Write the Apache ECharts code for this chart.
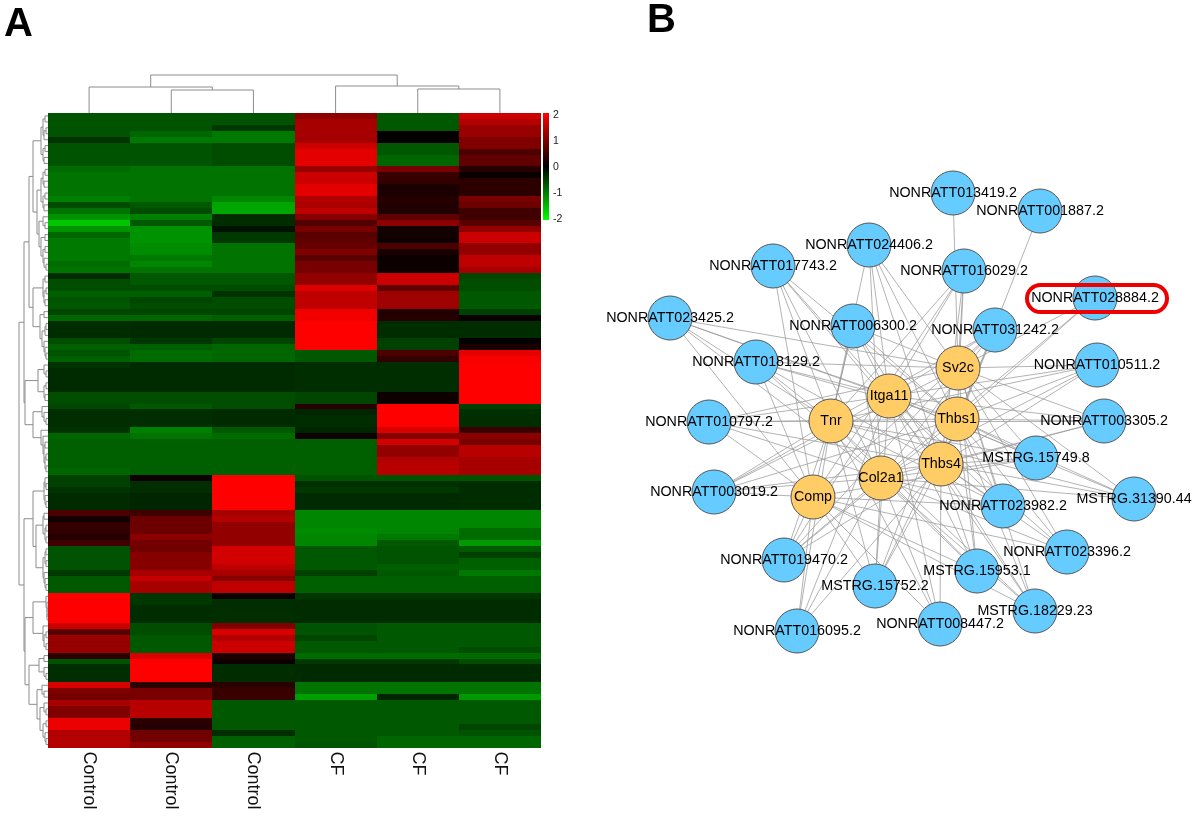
<!DOCTYPE html>
<html><head><meta charset="utf-8">
<style>html,body{margin:0;padding:0;background:#fff}#c{width:1200px;height:819px;filter:blur(.4px)}</style>
<script src="https://cdn.jsdelivr.net/npm/echarts@6/dist/echarts.min.js"></script>
</head><body><div id="c"></div>
<script>
const columns = ['Control','Control','Control','CF','CF','CF'];
const legendTicks = [-2,-1,0,1,2];

// expression values, top row to bottom row (107 rows)
const control1 = [-.65,-.65,-.65,-.65,-.4,-.65,-.65,-.65,-.65,-.85,
 -.9,-.9,-.9,-.9,-1,-.6,-.9,-1.15,-1.55,-1.15,
 -.8,-.95,-.95,-.95,-.95,-.85,-.9,-.35,-.6,-.6,
 -.75,-.65,-.7,-.55,-.8,-.35,-.35,-.35,-.6,-.75,
 -.65,-.75,-.4,-.33,-.33,-.33,-.33,-.6,-.6,-.55,
 -.36,-.36,-.36,-.4,-.8,-.75,-.75,-.75,-.75,-.75,
 -.8,-.5,-.5,-.4,-.33,-.33,-.33,.6,.15,.4,
 .4,.3,.5,-.65,-.65,-.65,-.65,-.45,-.7,-.7,
 -.7,2,2,2,2,2,1.6,.7,1.2,1.15,
 1.2,.35,-.65,-.36,-.36,-.36,1.7,1,.9,1.3,
 1,1,1.85,1.85,1.4,1.4,1.4];
const control2 = [-.65,-.65,-.65,-.8,-.95,-.65,-.65,-.65,-.65,-.9,
 -.9,-.9,-.9,-.9,-.9,-.7,-.6,-1,-.7,-1.15,
 -1.15,-1.15,-1.1,-1.1,-.95,-1.05,-.9,-.7,-.7,-.6,
 -.75,-.55,-.6,-.55,-.8,-.33,-.33,-.33,-.42,-.75,
 -.85,-.85,-.33,-.33,-.33,-.33,-.33,-.6,-.6,-.7,
 -.36,-.36,-.36,-1,-.9,-.75,-.75,-.75,-.75,-.75,
 -.75,.1,-.36,-.36,-.3,-.3,-.3,.5,.85,.85,
 .85,1.1,.9,.9,1.05,1.05,1.05,1.3,1.55,1.3,
 1.3,-.42,-.42,-.35,-.35,-.35,-.6,-.6,-.7,-.7,
 -.7,1.7,2,2,2,2,.35,.95,.95,1.45,
 1.45,1.45,.35,.3,.9,.9,1.15];
const control3 = [-.65,-.65,-.45,-.95,-.95,-.6,-.6,-.6,-.6,-.9,
 -.9,-.9,-.9,-.9,-1.05,-1.3,-1.3,-.35,-.35,-.15,
 -.45,-.45,-.9,-.9,-.9,-.9,-.9,-.7,-.7,-.6,
 -.4,-.6,-.6,-.55,-.75,-.33,-.33,-.33,-.55,-.8,
 -.8,-.8,-.33,-.33,-.33,-.33,-.33,-.6,-.6,-.6,
 -.33,-.33,-.33,-.7,-.85,-.75,-.75,-.75,-.75,-.75,
 -.75,2,2,2,2,2,2,1.3,1.4,1.15,
 1.15,1.15,1.15,1.65,1.65,1.65,1.5,1.3,1.05,1.5,
 1.5,.1,-.36,-.36,-.36,-.36,1,1.7,1.4,1.6,
 1.6,.25,.1,-.35,-.35,-.35,.35,.45,.45,-.7,
 -.7,-.7,-.7,-.7,-.36,-.75,-.75];
const cf1 = [1.1,1.3,1.3,1.3,1.3,1.6,1.8,1.8,1.8,1.2,
 1.6,1.6,1.8,1.8,1.4,1.35,1.5,1.05,.65,.95,
 .7,.75,.8,1,.7,.95,.95,1.15,1.15,1.75,
 1.5,1.5,1.5,1.9,1.9,2,2,2,2,2,
 -.7,-.7,-.36,-.36,-.36,-.36,-.36,-.55,-.55,.3,
 -.3,-.35,-.35,-.3,.1,-.75,-.75,-.75,-.75,-.75,
 -.75,-.65,-.38,-.45,-.33,-.33,-.33,-1.05,-1.05,-1.05,
 -1.1,-1.05,-1.05,-.7,-.7,-.7,-.7,-.5,-.75,-.75,
 -.75,-.42,-.35,-.35,-.35,-.35,-.65,-.65,-.55,-.7,
 -.7,-.85,-.45,-.33,-.33,-.33,-.9,-.9,-1.25,-.7,
 -.7,-.7,-.7,-.7,-.7,-.7,-.65];
const cf2 = [-.7,-.7,-.7,.03,.03,-.7,-.7,-.8,-.8,.95,
 .45,.4,.2,.2,.3,.25,.25,.75,1.1,.15,
 .15,.1,.6,.2,.1,.1,.1,1.6,1.6,.75,
 1.25,1.25,1.25,.25,.3,-.35,-.35,-.35,-.5,-.5,
 .6,.4,-.36,-.36,-.36,-.36,-.36,.12,.12,2,
 2,2,2,1.7,1.05,1.65,1.15,1.15,1.4,1.45,
 1.45,-.65,-.38,-.45,-.33,-.33,-.33,-1.05,-1.05,-1.05,
 -1.05,-.95,-.7,-.65,-.65,-.65,-.75,-.7,-.75,-.75,
 -.75,-.42,-.35,-.35,-.35,-.35,-.7,-.7,-.7,-.7,
 -.7,-.85,-.45,-.33,-.33,-.33,-.9,-.9,-.3,-.7,
 -.7,-.7,-.7,-.7,-.7,-.8,-.8];
const cf3 = [1.6,1.4,1.2,1.2,1,1,.6,.75,.75,.3,
 .08,.35,.35,.35,.95,.85,.5,.5,.7,1.15,
 1.6,1.6,1.15,1.15,1.5,1.5,1.3,-.55,-.6,-.6,
 -.7,-.7,-.7,-.5,.07,-.35,-.35,-.35,.03,.2,
 1.8,1.95,2,2,2,2,2,2,2,-.5,
 -.38,-.36,-.36,.45,1.1,.95,1.45,1.45,1.3,1.3,
 1.3,-.65,-.35,-.35,-.35,-.35,-.35,-1.05,-1.05,-1.05,
 -.85,-.85,-1.2,-.7,-.5,-.75,-.75,-.95,-.75,-.75,
 -.75,-.42,-.35,-.35,-.35,-.35,-.7,-.7,-.7,-.7,
 -.6,-.85,-.6,-.33,-.33,-.33,-.9,-.9,-1.2,-.7,
 -.7,-.7,-.7,-.55,-.65,-.8,-.8];
const heatColumns = [control1,control2,control3,cf1,cf2,cf3];

// dendrograms: [merge position, childA, childB]; a bare number is a leaf index
const columnTree = [75,[87,0,[90,1,2]],[86,3,[89,4,5]]];
const clusterA = [41,[43,[45,0,1],[44,[46,2,3],4]],[43,[45,5,6],[44,7,8]]];
const clusterB = [37,[41,[43,[45,9,10],[44,11,12]],[43,[45,13,14],[44,15,16]]],
  [39,[43,17,[45,18,19]],[41,[45,20,21],[43,[45,22,23],[44,24,[46,25,26]]]]]];
const clusterC = [33,[43,[45,27,28],[44,[46,29,30],[45,31,32]]],
  [40,[44,33,34],[42,[45,[46,35,36],37],[44,38,[45,39,[46,40,41]]]]]];
const clusterD = [25,[38,[44,42,[46,43,44]],[44,[46,45,46],[45,47,48]]],
  [33,[42,49,[44,50,[46,51,52]]],[41,53,[43,54,[44,[45,55,56],[45,[46,57,58],[46,59,60]]]]]]];
const clusterE = [44,[45,61,[46,62,63]],[45,64,[46,65,66]]];
const clusterF = [36,[43,[44,67,68],[45,[46,69,70],[46,71,72]]],[43,[45,[46,73,74],[46,75,76]],[44,77,[45,78,[46,79,80]]]]];
const clusterG = [33,[46,81,[47,82,[47,83,[47,84,85]]]],[43,86,[44,[46,87,88],[46,89,90]]]];
const clusterH = [29,[39,[44,91,92],[44,93,[46,94,95]]],[37,[42,96,[44,97,98]],[40,[44,99,[46,100,101]],[43,[46,102,103],[45,104,[46,105,106]]]]]];
const rowTree = [19,[24,[29,[33,clusterA,clusterB],clusterC],clusterD],[24,[33,clusterE,clusterF],[25,clusterG,clusterH]]];

// network nodes
const hubNames = ['Sv2c','Itga11','Thbs1','Tnr','Thbs4','Col2a1','Comp'];
const hubX = [958,889,957,831,941,881,813];
const hubY = [368,396,419,421,464,478,497];
const lncNames = ['NONRATT013419.2','NONRATT001887.2','NONRATT024406.2','NONRATT017743.2','NONRATT016029.2','NONRATT028884.2','NONRATT023425.2','NONRATT006300.2','NONRATT031242.2','NONRATT018129.2','NONRATT010511.2','NONRATT010797.2','NONRATT003305.2','MSTRG.15749.8','NONRATT003019.2','MSTRG.31390.44','NONRATT023982.2','NONRATT023396.2','NONRATT019470.2','MSTRG.15953.1','MSTRG.15752.2','MSTRG.18229.23','NONRATT008447.2','NONRATT016095.2'];
const lncX = [953,1040,869,773,964,1095,670,853,995,756,1097,709,1104,1036,714,1134,1003,1067,784,977,875,1035,940,797];
const lncY = [193,211,245,266,271,298,318,326,330,362,365,422,421,458,492,499,506,552,560,571,586,611,624,631];
// hubs linked to each lncRNA, same order as lncNames
const lncLinks = [
 ['Sv2c'],
 ['Thbs4'],
 ['Tnr','Itga11','Col2a1','Thbs4','Thbs1','Sv2c'],
 ['Tnr','Comp','Itga11','Col2a1','Thbs4','Thbs1'],
 ['Sv2c','Thbs1','Itga11','Tnr','Thbs4','Comp'],
 ['Sv2c','Thbs1','Col2a1'],
 ['Tnr','Itga11','Comp','Col2a1','Thbs1','Sv2c'],
 ['Tnr','Itga11','Sv2c','Thbs1','Thbs4','Col2a1','Comp'],
 ['Sv2c','Thbs1','Itga11','Thbs4','Col2a1','Tnr','Comp'],
 ['Tnr','Itga11','Comp','Col2a1','Thbs1','Thbs4','Sv2c'],
 ['Sv2c','Thbs1','Itga11','Thbs4','Col2a1','Tnr'],
 ['Tnr','Comp','Itga11','Col2a1','Thbs4','Thbs1','Sv2c'],
 ['Sv2c','Thbs1','Itga11','Tnr','Thbs4','Col2a1'],
 ['Thbs1','Sv2c','Thbs4','Itga11','Tnr','Col2a1','Comp'],
 ['Comp','Tnr','Col2a1','Itga11','Thbs4','Thbs1','Sv2c'],
 ['Thbs1','Thbs4','Sv2c','Itga11','Col2a1','Tnr'],
 ['Thbs4','Thbs1','Sv2c','Col2a1','Itga11','Tnr','Comp'],
 ['Thbs4','Thbs1','Col2a1','Sv2c','Comp','Itga11'],
 ['Comp','Tnr','Col2a1','Itga11','Thbs4','Thbs1','Sv2c'],
 ['Thbs4','Col2a1','Comp','Thbs1','Sv2c','Tnr','Itga11'],
 ['Col2a1','Comp','Tnr','Itga11','Thbs4','Thbs1','Sv2c'],
 ['Thbs4','Thbs1','Col2a1','Sv2c','Comp','Itga11','Tnr'],
 ['Col2a1','Thbs4','Tnr','Comp','Itga11'],
 ['Comp','Tnr','Col2a1','Itga11','Thbs4']
];

// ---- layout of the panels ----
const GRID = {left:48, top:113, width:493, height:634.5};
const rowH = GRID.height / control1.length, colW = GRID.width / columns.length;
const font = '"Liberation Sans", Arial, sans-serif';

const heatData = [];
heatColumns.forEach((col,c)=>col.forEach((v,r)=>heatData.push([c,r,v])));

function treeLines(node, leafPos, toXY, out){
  if (typeof node === 'number') return {h:null, p:leafPos(node)};
  const a = treeLines(node[1],leafPos,toXY,out), b = treeLines(node[2],leafPos,toXY,out);
  out.push({coords:[toXY(a.h,a.p),toXY(node[0],a.p),toXY(node[0],b.p),toXY(b.h,b.p)]});
  return {h:node[0], p:(a.p+b.p)/2};
}
const dendro = [];
treeLines(rowTree, r=>GRID.top+rowH*(r+.5), (h,p)=>[h===null?GRID.left:h,p], dendro);
treeLines(columnTree, c=>GRID.left+colW*(c+.5), (h,p)=>[p,h===null?GRID.top:h], dendro);

const nodes = [];
hubNames.forEach((n,i)=>nodes.push({name:n,value:[hubX[i],hubY[i]],category:1}));
lncNames.forEach((n,i)=>nodes.push({name:n,value:[lncX[i],lncY[i]],category:0}));
const links = [];
lncNames.forEach((n,i)=>lncLinks[i].forEach(h=>links.push({source:n,target:h})));

// whole-pixel cell edges so neighbouring rows of equal colour show no seam
function renderCell(params, api){
  const p = api.coord([api.value(0), api.value(1)]);
  const s = api.size([1,1]);
  const x0 = Math.round(p[0]-s[0]/2), x1 = Math.round(p[0]+s[0]/2);
  const y0 = Math.round(p[1]-s[1]/2), y1 = Math.round(p[1]+s[1]/2);
  return {type:'rect',shape:{x:x0,y:y0,width:x1-x0,height:y1-y0},
    style:{fill:api.visual('color')}};
}

const chart = echarts.init(document.getElementById('c'),null,{width:1200,height:819});
chart.setOption({
  animation:false,
  backgroundColor:'#fff',
  title:[
    {text:'A',left:4,top:5,padding:0,textStyle:{fontFamily:font,fontSize:40,fontWeight:'bold',color:'#000'}},
    {text:'B',left:647,top:1,padding:0,textStyle:{fontFamily:font,fontSize:40,fontWeight:'bold',color:'#000'}}
  ],
  grid:[
    {left:GRID.left,top:GRID.top,width:GRID.width,height:GRID.height,containLabel:false},
    {left:0,top:0,width:1200,height:819},
    {left:543,top:115,width:6,height:104}
  ],
  xAxis:[
    {gridIndex:0,type:'category',data:columns,position:'bottom',axisTick:{show:false},
     axisLine:{show:false},splitLine:{show:false},
     axisLabel:{rotate:-90,fontFamily:font,fontSize:18,color:'#111',margin:4,interval:0}},
    {gridIndex:1,type:'value',min:0,max:1200,show:false},
    {gridIndex:2,type:'value',show:false}
  ],
  yAxis:[
    {gridIndex:0,type:'category',data:control1.map((_,i)=>i),inverse:true,show:false},
    {gridIndex:1,type:'value',min:0,max:819,inverse:true,show:false},
    {gridIndex:2,type:'value',min:legendTicks[0],max:legendTicks[4],interval:1,position:'right',
     axisLine:{show:false},axisTick:{show:false},splitLine:{show:false},
     axisLabel:{fontFamily:font,fontSize:10.5,color:'#222',margin:4}}
  ],
  visualMap:{type:'continuous',show:false,seriesIndex:0,dimension:2,min:-2,max:2,
    inRange:{color:['#00ff00','#000000','#ff0000']}},
  series:[
    {type:'custom',xAxisIndex:0,yAxisIndex:0,data:heatData,renderItem:renderCell,silent:true,
     encode:{x:0,y:1},progressive:0},
    {type:'lines',coordinateSystem:'cartesian2d',xAxisIndex:1,yAxisIndex:1,polyline:true,silent:true,
     data:dendro,lineStyle:{color:'#8c8c8c',width:1,opacity:1}},
    {type:'graph',coordinateSystem:'cartesian2d',xAxisIndex:1,yAxisIndex:1,layout:'none',roam:false,silent:true,
     symbolSize:44,data:nodes,links:links,
     categories:[
       {name:'lncRNA',itemStyle:{color:'#66ccff',borderColor:'#555',borderWidth:1}},
       {name:'mRNA',itemStyle:{color:'#ffcc66',borderColor:'#555',borderWidth:1}}
     ],
     lineStyle:{color:'#999999',width:1,opacity:.75,curveness:0},
     label:{show:true,position:'inside',fontFamily:font,fontSize:14.3,color:'#000'},
     labelLayout:{hideOverlap:false}}
  ],
  graphic:[
    {type:'rect',silent:true,shape:{x:543,y:113,width:6,height:107},
     style:{fill:new echarts.graphic.LinearGradient(0,0,0,1,[
       {offset:0,color:'#ff0000'},{offset:.5,color:'#000000'},{offset:1,color:'#00ff00'}])}},
    {type:'rect',z:100,silent:true,shape:{x:1027,y:285,width:140,height:27,r:13.5},
     style:{fill:'none',stroke:'#ee0000',lineWidth:4}}
  ]
});
</script></body></html>
